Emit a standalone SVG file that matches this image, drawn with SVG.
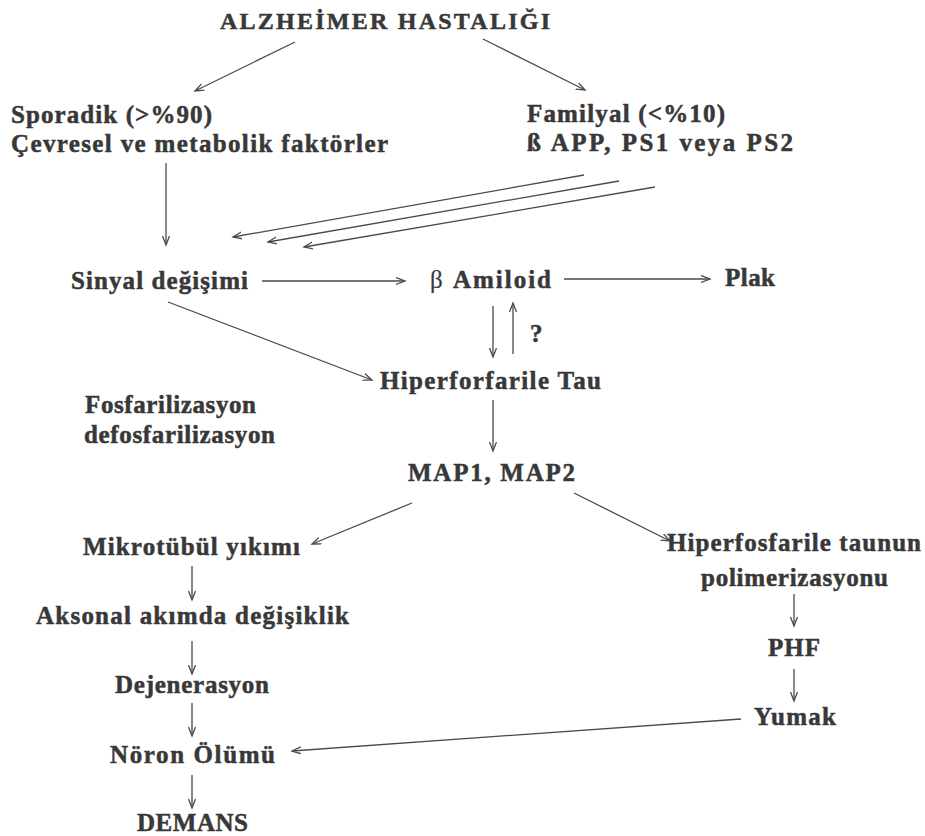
<svg xmlns="http://www.w3.org/2000/svg" width="925" height="836" viewBox="0 0 925 836">
  <defs>
    <marker id="arr" markerUnits="userSpaceOnUse" markerWidth="12" markerHeight="10" refX="9" refY="4" orient="auto">
      <path d="M0,0.5 L9,4 L0,7.5" fill="none" stroke="#4a4a4a" stroke-width="1.3"/>
    </marker>
    <style>
      text { font-family: "Liberation Serif", "Times New Roman", serif; font-weight: bold; font-size: 25px; fill: #383838; stroke: #383838; stroke-width: 0.5px; }
      .title { font-size: 24px; }
      .sym { font-weight: normal; stroke-width: 0.2px; }
      .edge { stroke: #4a4a4a; stroke-width: 1.3; fill: none; marker-end: url(#arr); }
    </style>
  </defs>
  <rect width="925" height="836" fill="#ffffff"/>

  <!-- nodes -->
  <g id="alzheimer"><text class="title" x="220" y="29" textLength="330">ALZHEİMER HASTALIĞI</text></g>
  <g id="sporadik">
    <text x="11" y="123" textLength="201">Sporadik (&gt;%90)</text>
    <text x="11" y="152" textLength="377">Çevresel ve metabolik faktörler</text>
  </g>
  <g id="familyal">
    <text x="527" y="122" textLength="198">Familyal (&lt;%10)</text>
    <text x="527" y="151" textLength="266">ß APP, PS1 veya PS2</text>
  </g>
  <g id="sinyal"><text x="71" y="289" textLength="177">Sinyal değişimi</text></g>
  <g id="amiloid"><text x="430" y="288" textLength="121"><tspan class="sym">β</tspan> Amiloid</text></g>
  <g id="plak"><text x="725" y="286" textLength="50">Plak</text></g>
  <g id="soru"><text x="530" y="342" font-size="21">?</text></g>
  <g id="tau"><text x="380" y="389" textLength="221">Hiperforfarile Tau</text></g>
  <g id="fosfo">
    <text x="85" y="413" textLength="171">Fosfarilizasyon</text>
    <text x="84" y="443" textLength="191">defosfarilizasyon</text>
  </g>
  <g id="map"><text x="408" y="481" textLength="167">MAP1, MAP2</text></g>
  <g id="mikrotubul"><text x="83" y="555" textLength="217">Mikrotübül yıkımı</text></g>
  <g id="aksonal"><text x="36" y="624" textLength="313">Aksonal akımda değişiklik</text></g>
  <g id="dejenerasyon"><text x="115" y="693" textLength="154">Dejenerasyon</text></g>
  <g id="noron"><text x="110" y="763" textLength="165">Nöron Ölümü</text></g>
  <g id="demans"><text x="137" y="831" textLength="111">DEMANS</text></g>
  <g id="polimerizasyon">
    <text x="667" y="551" textLength="254">Hiperfosfarile taunun</text>
    <text x="701" y="586" textLength="187">polimerizasyonu</text>
  </g>
  <g id="phf"><text x="768" y="656" textLength="52">PHF</text></g>
  <g id="yumak"><text x="754" y="725" textLength="82">Yumak</text></g>

  <!-- connectors -->
  <g id="connectors">
    <line class="edge" x1="295" y1="42" x2="195" y2="91"/>
    <line class="edge" x1="483" y1="39" x2="585" y2="90"/>
    <line class="edge" x1="166" y1="163" x2="166" y2="245"/>
    <line class="edge" x1="584" y1="175" x2="233" y2="237"/>
    <line class="edge" x1="619" y1="181" x2="268" y2="242"/>
    <line class="edge" x1="655" y1="187" x2="304" y2="247"/>
    <line class="edge" x1="262" y1="281" x2="405" y2="281"/>
    <line class="edge" x1="564" y1="279" x2="710" y2="279"/>
    <line class="edge" x1="493" y1="306" x2="493" y2="357"/>
    <line class="edge" x1="513" y1="354" x2="513" y2="303"/>
    <line class="edge" x1="168" y1="302" x2="372" y2="380"/>
    <line class="edge" x1="493" y1="400" x2="493" y2="451"/>
    <line class="edge" x1="412" y1="503" x2="312" y2="544"/>
    <line class="edge" x1="574" y1="493" x2="670" y2="541"/>
    <line class="edge" x1="192" y1="566" x2="192" y2="600"/>
    <line class="edge" x1="192" y1="641" x2="192" y2="674"/>
    <line class="edge" x1="192" y1="703" x2="192" y2="736"/>
    <line class="edge" x1="192" y1="775" x2="192" y2="808"/>
    <line class="edge" x1="794" y1="594" x2="794" y2="626"/>
    <line class="edge" x1="794" y1="669" x2="794" y2="701"/>
    <line class="edge" x1="741" y1="719" x2="292" y2="751"/>
  </g>
</svg>
